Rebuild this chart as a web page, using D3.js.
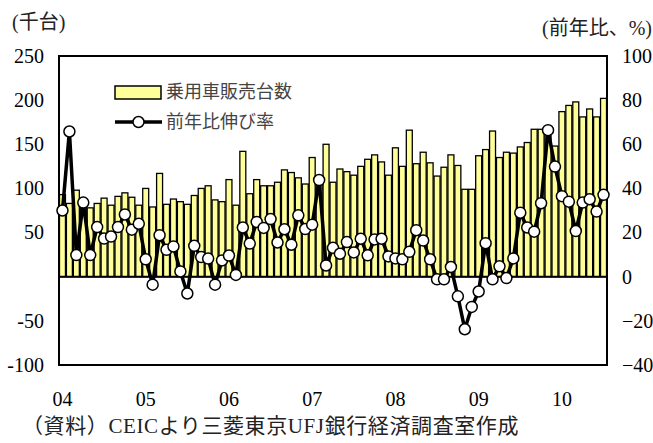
<!DOCTYPE html>
<html>
<head>
<meta charset="utf-8">
<script src="https://cdn.jsdelivr.net/npm/d3@7"></script>
<style>
body { margin: 0; background: #fff; }
</style>
</head>
<body>
<div id="chart"></div>
<script>
var margin = {top: 56, right: 46, bottom: 78, left: 59},
width = 653 - margin.left - margin.right,
height = 443 - margin.top - margin.bottom;

var yearLabels = ["04", "05", "06", "07", "08", "09", "10"];

// 乗用車販売台数 (千台), 2004/1 - 2010/7
var sales = [
  93, 83, 98, 80, 78, 83, 89, 81, 91, 95, 90, 81,
  100, 79, 117, 82, 88, 85, 82, 92, 100, 103, 87, 85,
  110, 81, 142, 94, 110, 103, 103, 107, 121, 118, 112, 105,
  135, 107, 150, 107, 122, 119, 115, 125, 133, 138, 130, 115,
  146, 125, 166, 128, 141, 129, 114, 124, 138, 126, 99, 99,
  137, 144, 165, 135, 141, 140, 147, 152, 167, 167, 168, 148,
  187, 194, 198, 181, 190, 181, 202
];

// 前年比伸び率 (%)
var growth = [
  30, 65.8, 9.8, 33.6, 9.8, 22.5, 17.3, 18.2, 22.5, 28.2, 21.3, 24,
  7.9, -3.6, 18.8, 12.2, 13.7, 2.4, -7.6, 14, 8.9, 8.2, -3.6, 7.4,
  9.6, 0.8, 22.3, 15, 24.8, 22.1, 26.1, 15.5, 21.5, 14.5, 27.8, 21.6,
  23.6, 43.8, 5.1, 13.1, 10.4, 15.7, 11, 17.2, 9.7, 16.9, 17.2, 9.2,
  8.3, 7.9, 11.3, 21.1, 16.4, 7.9, -1.2, -1.2, 4.4, -8.9, -23.8, -13.7,
  -6.7, 15.2, -1.2, 4.7, -0.6, 8.3, 29, 22.3, 20.4, 33.3, 66.4, 49.9,
  36.5, 34, 20.7, 33.6, 35.1, 29.5, 37.1
];

var leftTicks = [250, 200, 150, 100, 50, -50, -100];
var leftTickLabels = ["250", "200", "150", "100", "50", "-50", "-100"];
var rightTicks = [100, 80, 60, 40, 20, 0, -20, -40];

var categories = sales.map(function(d, i) {
  return yearLabels[Math.floor(i / 12)] + "/" + (i % 12 + 1);
});

var serif = "'Liberation Serif', 'Times New Roman', 'Noto Sans CJK JP', serif";
var jp = "'Liberation Serif', 'Noto Sans CJK JP', sans-serif";

var svg = d3.select("#chart").append("svg")
  .attr("width", 653)
  .attr("height", 443);

var g = svg.append("g")
  .attr("transform", "translate(" + margin.left + "," + margin.top + ")");

var x = d3.scaleBand()
  .domain(categories)
  .range([0, width])
  .paddingInner(0.14)
  .paddingOuter(0.07);

var y = d3.scaleLinear()
  .domain([-100, 250])
  .range([height, 0]);

var y2 = d3.scaleLinear()
  .domain([-40, 100])
  .range([height, 0]);

// bars
g.selectAll(".bar")
  .data(sales)
  .enter().append("rect")
  .attr("class", "bar")
  .attr("x", function(d, i) { return x(categories[i]) })
  .attr("y", function(d) { return y(d) })
  .attr("width", x.bandwidth())
  .attr("height", function(d) { return y(0) - y(d) })
  .attr("fill", "#ffff99")
  .attr("stroke", "#000")
  .attr("stroke-width", 1.3);

// frame + zero line
g.append("rect")
  .attr("width", width)
  .attr("height", height)
  .attr("fill", "none")
  .attr("stroke", "#000")
  .attr("stroke-width", 2);

g.append("line")
  .attr("x1", 0)
  .attr("x2", width)
  .attr("y1", y(0))
  .attr("y2", y(0))
  .attr("stroke", "#000")
  .attr("stroke-width", 2);

// line
g.append("path")
  .datum(growth)
  .attr("fill", "none")
  .attr("stroke", "#000")
  .attr("stroke-width", 3.5)
  .attr("stroke-linejoin", "round")
  .attr("d", d3.line()
    .x(function(d, i) { return x(categories[i]) + x.bandwidth() / 2 })
    .y(function(d) { return y2(d) })
  );

g.selectAll(".dot")
  .data(growth)
  .enter().append("circle")
  .attr("class", "dot")
  .attr("cx", function(d, i) { return x(categories[i]) + x.bandwidth() / 2 })
  .attr("cy", function(d) { return y2(d) })
  .attr("r", 5.5)
  .attr("fill", "#fff")
  .attr("stroke", "#000")
  .attr("stroke-width", 1.5);

// axes
var leftAxis = g.append("g")
  .call(d3.axisLeft(y).tickValues(leftTicks).tickSize(0).tickPadding(15)
    .tickFormat(function(d, i) { return leftTickLabels[i] }));

var rightAxis = g.append("g")
  .attr("transform", "translate(" + width + ",0)")
  .call(d3.axisRight(y2).tickValues(rightTicks).tickSize(0).tickPadding(15));

var janCats = categories.filter(function(d) { return /\/1$/.test(d) });
var bottomAxis = g.append("g")
  .attr("transform", "translate(0," + height + ")")
  .call(d3.axisBottom(x).tickValues(janCats).tickSize(0).tickPadding(27)
    .tickFormat(function(d) { return d.split("/")[0] }));

[leftAxis, rightAxis, bottomAxis].forEach(function(a) {
  a.select(".domain").remove();
  a.attr("font-family", serif).attr("font-size", 20);
  a.selectAll("text").attr("fill", "#000");
});

// unit labels
svg.append("text")
  .attr("x", 12)
  .attr("y", 29)
  .attr("font-family", jp)
  .attr("font-size", 20)
  .attr("fill", "#222")
  .text("(千台)");

svg.append("text")
  .attr("x", 652)
  .attr("y", 35)
  .attr("text-anchor", "end")
  .attr("font-family", jp)
  .attr("font-size", 20)
  .attr("fill", "#222")
  .text("(前年比、%)");

// legend
svg.append("rect")
  .attr("x", 115)
  .attr("y", 86)
  .attr("width", 46)
  .attr("height", 13)
  .attr("fill", "#ffff99")
  .attr("stroke", "#000")
  .attr("stroke-width", 1.5);

svg.append("line")
  .attr("x1", 115)
  .attr("x2", 162)
  .attr("y1", 122)
  .attr("y2", 122)
  .attr("stroke", "#000")
  .attr("stroke-width", 3.5);

svg.append("circle")
  .attr("cx", 138.5)
  .attr("cy", 122)
  .attr("r", 5.5)
  .attr("fill", "#fff")
  .attr("stroke", "#000")
  .attr("stroke-width", 1.5);

svg.selectAll(".legtext")
  .data(["乗用車販売台数", "前年比伸び率"])
  .enter().append("text")
  .attr("class", "legtext")
  .attr("x", 166)
  .attr("y", function(d, i) { return 92 + i * 30 })
  .attr("dy", "0.35em")
  .attr("font-family", "'Noto Sans CJK JP', sans-serif")
  .attr("font-size", 18)
  .attr("fill", "#444")
  .text(function(d) { return d });

// source note
svg.append("text")
  .attr("x", 22)
  .attr("y", 433)
  .attr("font-family", jp)
  .attr("font-size", 21)
  .attr("letter-spacing", 0.6)
  .attr("fill", "#222")
  .text("（資料）CEICより三菱東京UFJ銀行経済調査室作成");
</script>
</body>
</html>
